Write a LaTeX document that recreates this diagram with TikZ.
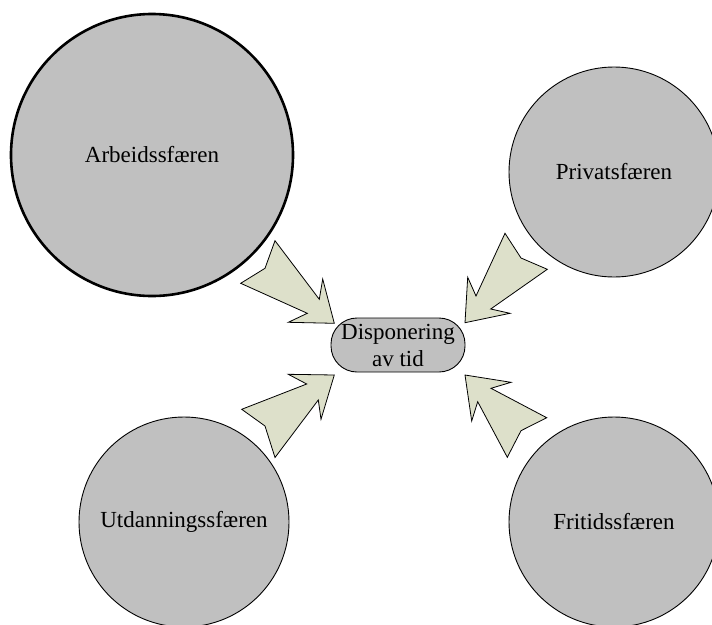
\documentclass[tikz,border=0pt]{standalone}
\usepackage{fontspec}
\setmainfont{Liberation Serif}
\usetikzlibrary{positioning}
\definecolor{sfgray}{HTML}{C0C0C0}
\definecolor{sfarrow}{HTML}{DDE0CA}
\tikzset{
  sfcircle/.style={circle, draw=black, fill=sfgray, line width=0.9pt,
                   inner sep=0pt, minimum size=210pt, text=black,
                   font=\fontsize{23}{27}\selectfont},
  sfbold/.style  ={sfcircle, line width=2.6pt, minimum size=282pt},
  sfcentre/.style={rectangle, rounded corners=26pt, draw=black, fill=sfgray,
                   line width=0.9pt, minimum width=134pt, minimum height=54pt,
                   inner sep=0pt, align=center, font=\fontsize{23}{27}\selectfont},
  sfblock/.style ={draw=black, fill=sfarrow, line width=0.8pt, line join=miter},
}

\begin{document}
\begin{tikzpicture}[x=1pt, y=-1pt]
  \useasboundingbox (0,0) rectangle (712,624);
  % spheres
  \node[sfbold]   (arb) at (152,155) {Arbeidssfæren};
  \node[sfcircle] (pri) at (614,172) {Privatsfæren};
  \node[sfcircle] (utd) at (184,522) {Utdanningssfæren};
  \node[sfcircle] (fri) at (614,522) {Fritidssfæren};
  \node[sfcentre] (tid) at (398,345) {Disponering\\av tid};
  % block arrows towards the centre
  \draw[sfblock] (334.3,323.3) -- (322.7,279) -- (319.3,299.3) -- (275,240.7)
     -- (265,268.3) -- (240.7,283.3) -- (307.3,313.3) -- (288.3,322.3) -- cycle;
  \draw[sfblock] (465,322.7) -- (467.7,277.3) -- (476,296) -- (505,233.3)
     -- (521,258) -- (547.3,269.3) -- (490.7,309) -- (510,313.3) -- cycle;
  \draw[sfblock] (334.3,375) -- (321,419.3) -- (318.3,400) -- (275,457.5)
     -- (265,426) -- (241.7,409.3) -- (306.7,384) -- (288.3,374.3) -- cycle;
  \draw[sfblock] (465,375) -- (511,382.3) -- (491,388.3) -- (546.7,417.7)
     -- (521,430.7) -- (507.3,457.3) -- (477.7,401.7) -- (471.7,421) -- cycle;
\end{tikzpicture}
\end{document}
